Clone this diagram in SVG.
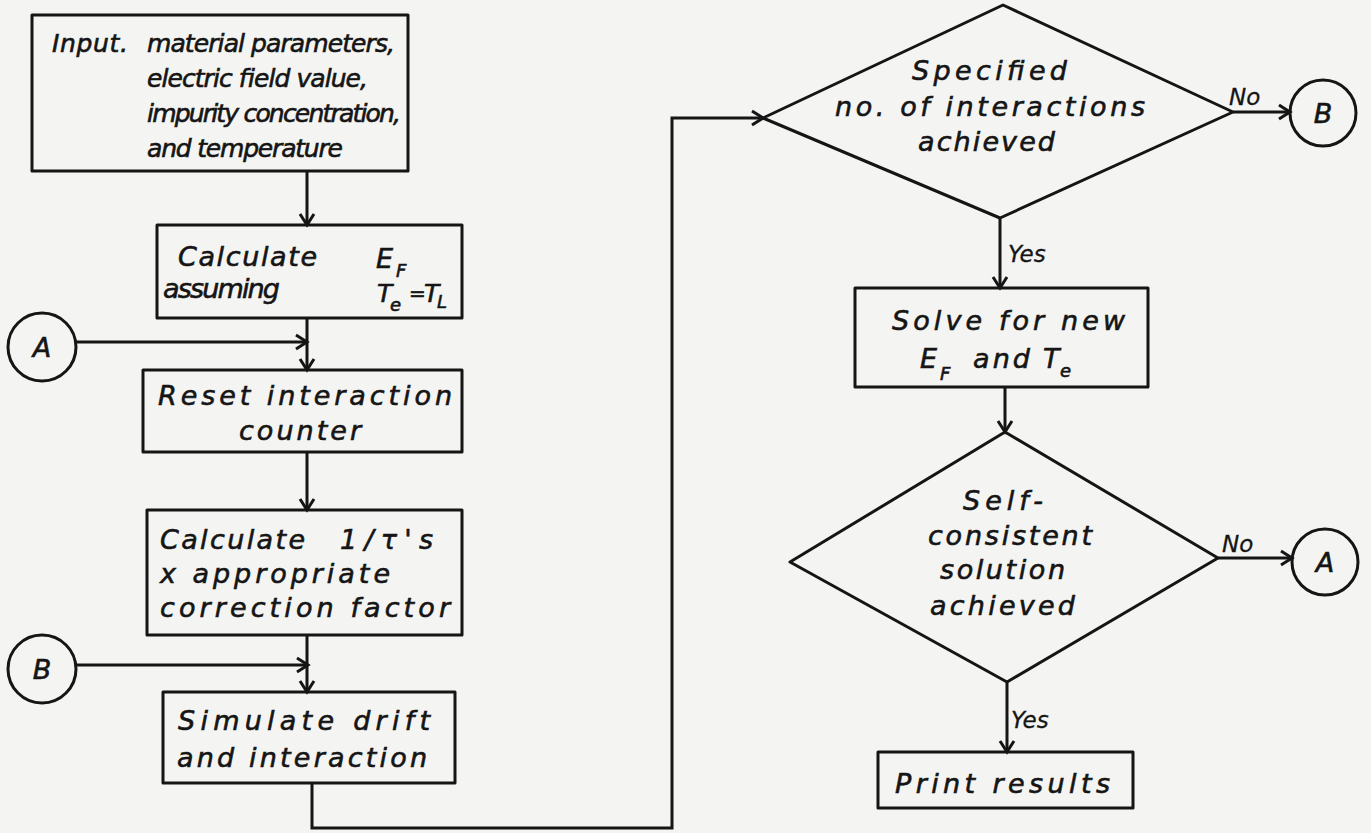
<svg xmlns="http://www.w3.org/2000/svg" width="1371" height="833" viewBox="0 0 1371 833">
<style>
.shape{fill:none;stroke:#151515;stroke-width:3;stroke-linejoin:round}
.conn{fill:none;stroke:#151515;stroke-width:3}
text{font-family:"DejaVu Sans","Liberation Sans",sans-serif;font-style:italic;font-size:27px;fill:#151515;stroke:#151515;stroke-width:0.6}
.top{font-size:25px}
.sub{font-size:18px}
.lbl{font-size:23px;stroke-width:0.3}
.ctr{text-anchor:middle}
</style>
<defs>
<marker id="arr" viewBox="-14 -9 16 18" markerWidth="16" markerHeight="18" refX="0" refY="0" orient="auto" markerUnits="userSpaceOnUse" overflow="visible">
<path d="M-11,-7 L0,0 L-11,7" fill="none" stroke="#151515" stroke-width="3"/>
</marker>
</defs>
<rect x="0" y="0" width="1371" height="833" fill="#f4f4f2"/>

<g id="connectors">
<path class="conn" d="M307,171 V225" marker-end="url(#arr)"/>
<path class="conn" d="M307,318 V370" marker-end="url(#arr)"/>
<path class="conn" d="M76,342 H307" marker-end="url(#arr)"/>
<path class="conn" d="M307,452 V510" marker-end="url(#arr)"/>
<path class="conn" d="M307,635 V692" marker-end="url(#arr)"/>
<path class="conn" d="M76,665 H308" marker-end="url(#arr)"/>
<path class="conn" d="M312,783 V828 H672 V118 H763" marker-end="url(#arr)"/>
<path class="conn" d="M1000,218 V288" marker-end="url(#arr)"/>
<path class="conn" d="M1233,112 H1290" marker-end="url(#arr)"/>
<path class="conn" d="M1005,387 V432" marker-end="url(#arr)"/>
<path class="conn" d="M1218,558 H1292" marker-end="url(#arr)"/>
<path class="conn" d="M1007,682 V752" marker-end="url(#arr)"/>
<text class="lbl" x="1229" y="105">No</text>
<text class="lbl" x="1008" y="262">Yes</text>
<text class="lbl" x="1222" y="552">No</text>
<text class="lbl" x="1011" y="728">Yes</text>
</g>

<g id="input">
<rect class="shape" x="32" y="15" width="376" height="156"/>
<text class="top" x="52" y="52" textLength="76" lengthAdjust="spacing">Input.</text>
<text class="top" x="147" y="52" textLength="248" lengthAdjust="spacing">material parameters,</text>
<text class="top" x="147" y="87" textLength="221" lengthAdjust="spacing">electric field value,</text>
<text class="top" x="147" y="122" textLength="254" lengthAdjust="spacing">impurity concentration,</text>
<text class="top" x="147" y="157" textLength="196" lengthAdjust="spacing">and temperature</text>
</g>

<g id="calc-ef">
<rect class="shape" x="157" y="225" width="305" height="93"/>
<text x="178" y="266" textLength="139" lengthAdjust="spacing">Calculate</text>
<text x="376" y="268">E</text>
<text class="sub" x="396" y="277">F</text>
<text x="163" y="298" textLength="117" lengthAdjust="spacing">assuming</text>
<text x="377" y="302" style="font-size:25px">T</text>
<text class="sub" x="390" y="311">e</text>
<text x="409" y="300" style="font-style:normal;font-size:20px">=</text>
<text x="424" y="302" style="font-size:25px">T</text>
<text class="sub" x="437" y="308">L</text>
</g>

<g id="connector-a1">
<circle class="shape" cx="42" cy="347" r="34"/>
<text class="ctr" x="42" y="357">A</text>
</g>

<g id="reset">
<rect class="shape" x="143" y="370" width="319" height="82"/>
<text x="158" y="405" textLength="294" lengthAdjust="spacing">Reset interaction</text>
<text class="ctr" x="300" y="440" textLength="122" lengthAdjust="spacing">counter</text>
</g>

<g id="calc-tau">
<rect class="shape" x="147" y="510" width="315" height="125"/>
<text x="160" y="549" textLength="145" lengthAdjust="spacing">Calculate</text>
<text x="340" y="549" textLength="93" lengthAdjust="spacing">1/τ's</text>
<text x="160" y="583" textLength="230" lengthAdjust="spacing">x appropriate</text>
<text x="160" y="617" textLength="290" lengthAdjust="spacing">correction factor</text>
</g>

<g id="connector-b1">
<circle class="shape" cx="42" cy="669" r="34"/>
<text class="ctr" x="42" y="679">B</text>
</g>

<g id="simulate">
<rect class="shape" x="163" y="692" width="292" height="91"/>
<text x="178" y="730" textLength="252" lengthAdjust="spacing">Simulate drift</text>
<text x="177" y="767" textLength="250" lengthAdjust="spacing">and interaction</text>
</g>

<g id="decision-interactions">
<polygon class="shape" points="763,118 1003,5 1233,112 1000,218"/>
<text x="912" y="80" textLength="155" lengthAdjust="spacing">Specified</text>
<text x="835" y="116" textLength="310" lengthAdjust="spacing">no. of interactions</text>
<text x="918" y="151" textLength="137" lengthAdjust="spacing">achieved</text>
</g>

<g id="connector-b2">
<circle class="shape" cx="1323" cy="113" r="33"/>
<text class="ctr" x="1323" y="123">B</text>
</g>

<g id="solve">
<rect class="shape" x="855" y="288" width="293" height="99"/>
<text x="892" y="330" textLength="233" lengthAdjust="spacing">Solve for new</text>
<text x="920" y="368">E</text>
<text class="sub" x="940" y="380">F</text>
<text x="973" y="368" textLength="57" lengthAdjust="spacing">and</text>
<text x="1043" y="368">T</text>
<text class="sub" x="1060" y="377">e</text>
</g>

<g id="decision-selfconsistent">
<polygon class="shape" points="790,562 1005,432 1218,558 1007,682"/>
<text x="963" y="510" textLength="80" lengthAdjust="spacing">Self-</text>
<text x="928" y="545" textLength="164" lengthAdjust="spacing">consistent</text>
<text x="940" y="579" textLength="125" lengthAdjust="spacing">solution</text>
<text x="930" y="615" textLength="145" lengthAdjust="spacing">achieved</text>
</g>

<g id="connector-a2">
<circle class="shape" cx="1325" cy="562" r="33"/>
<text class="ctr" x="1325" y="572">A</text>
</g>

<g id="print">
<rect class="shape" x="878" y="752" width="255" height="56"/>
<text x="895" y="793" textLength="215" lengthAdjust="spacing">Print results</text>
</g>
</svg>
